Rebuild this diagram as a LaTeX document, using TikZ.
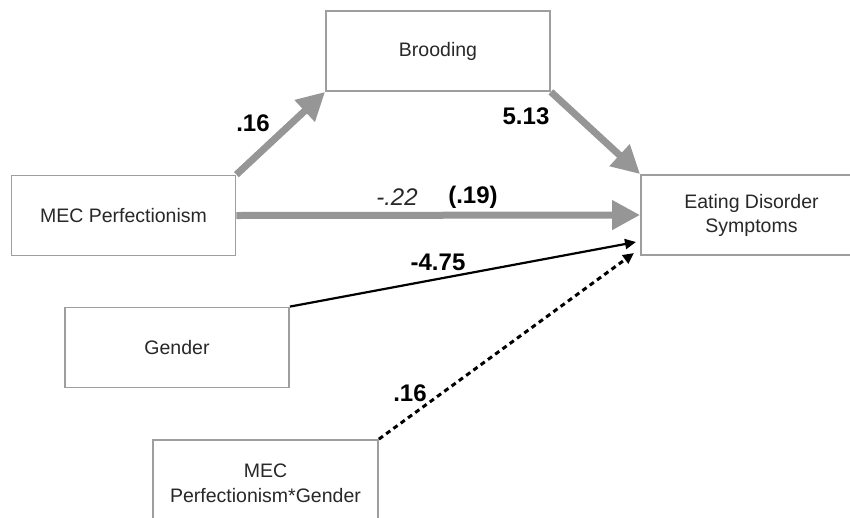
\documentclass[tikz,border=0pt]{standalone}
\usepackage{fontspec}
\setmainfont{Liberation Sans}
\usetikzlibrary{arrows.meta}
\definecolor{boxgray}{RGB}{158,158,158}
\definecolor{arrgray}{RGB}{150,150,150}
\definecolor{txt}{RGB}{40,40,40}
\begin{document}
\begin{tikzpicture}[x=1pt,y=-1pt,
  box/.style={draw=boxgray, line width=1.8pt, inner sep=0pt, text=txt,
    font=\fontsize{19.5}{24}\selectfont, align=center,
    minimum width=224pt, minimum height=80pt},
  boxtext/.style={text=txt, font=\fontsize{19.5}{25}\selectfont, align=center, inner sep=0pt},
  grayarrow/.style={draw=arrgray, line width=7pt, -{Triangle[length=28pt,width=28pt]}},
  blackarrow/.style={draw=black, line width=2.2pt, -{Triangle[length=11pt,width=10pt]}},
  coef/.style={font=\fontsize{24}{28}\selectfont\bfseries, text=black, inner sep=0pt},
  coefit/.style={font=\fontsize{24}{28}\selectfont\itshape, text=txt, inner sep=0pt}]
\useasboundingbox (0,0) rectangle (850,517);
\clip (0,0) rectangle (850,517);
\fill[white] (0,0) rectangle (850,517);

\node[box] (mec) at (123.5,215.5) {MEC Perfectionism};
\node[box] (brood) at (438,51) {Brooding};
\node[box, minimum width=221pt] (eds) at (751.5,215) {Eating Disorder\\Symptoms};
\node[box] (gen) at (177,347.5) {Gender};
\node[box, minimum width=225pt, minimum height=100pt] (mg) at (265.5,490) {};
\node[boxtext] (mgt) at (265.5,483) {MEC\\Perfectionism*Gender};

\coordinate (t1) at (636,242);
\coordinate (t2) at (634,253);

\draw[grayarrow] (mec.north east) -- (brood.south west);
\draw[grayarrow] (brood.south east) -- (eds.north west);
\draw[grayarrow] (mec.east) -- (eds.west);
\draw[blackarrow] (gen.north east) -- (t1);
\draw[blackarrow, dash pattern=on 5pt off 4pt, line width=3pt] (mg.north east) -- (t2);

\node[coef] (c1) at (253,123) {.16};
\node[coef] (c2) at (526,116) {5.13};
\node[coefit] (c3) at (397,197) {-.22};
\node[coef] (c4) at (473,197) {(.19)};
\node[coef] (c5) at (438,262) {-4.75};
\node[coef] (c6) at (410,393) {.16};
\end{tikzpicture}
\end{document}
